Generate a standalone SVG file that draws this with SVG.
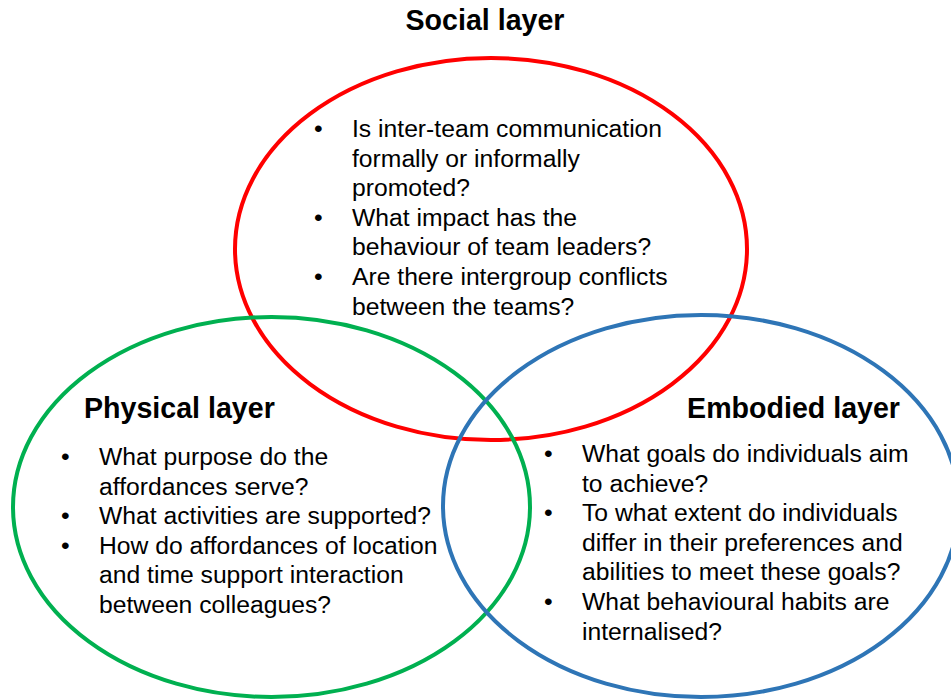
<svg xmlns="http://www.w3.org/2000/svg" width="951" height="700" viewBox="0 0 951 700">
  <style>
    .ring { fill: none; stroke-width: 4; }
    .title { font-family: "Liberation Sans", Arial, sans-serif; font-size: 28.6px; font-weight: bold; fill: #000; }
    .item { font-family: "Liberation Sans", Arial, sans-serif; font-size: 24.7px; fill: #000; }
  </style>
  <rect width="951" height="700" fill="#fff"/>

  <!-- Social layer -->
  <g id="social">
    <ellipse class="ring" cx="491" cy="249" rx="256" ry="191" stroke="#FF0000"/>
    <text class="title" x="485" y="30" text-anchor="middle">Social layer</text>
    <g class="item">
      <text x="314" y="137">•</text>
      <text x="352" y="137">Is inter-team communication</text>
      <text x="352" y="166.6">formally or informally</text>
      <text x="352" y="196.2">promoted?</text>
      <text x="314" y="225.8">•</text>
      <text x="352" y="225.8">What impact has the</text>
      <text x="352" y="255.4">behaviour of team leaders?</text>
      <text x="314" y="285">•</text>
      <text x="352" y="285">Are there intergroup conflicts</text>
      <text x="352" y="314.6">between the teams?</text>
    </g>
  </g>

  <!-- Physical layer -->
  <g id="physical">
    <ellipse class="ring" cx="271.5" cy="507" rx="258.5" ry="190" stroke="#00B050"/>
    <text class="title" x="84" y="418">Physical layer</text>
    <g class="item">
      <text x="61" y="465">•</text>
      <text x="99" y="465">What purpose do the</text>
      <text x="99" y="494.6">affordances serve?</text>
      <text x="61" y="524.2">•</text>
      <text x="99" y="524.2">What activities are supported?</text>
      <text x="61" y="553.8">•</text>
      <text x="99" y="553.8">How do affordances of location</text>
      <text x="99" y="583.4">and time support interaction</text>
      <text x="99" y="613">between colleagues?</text>
    </g>
  </g>

  <!-- Embodied layer -->
  <g id="embodied">
    <ellipse class="ring" cx="701" cy="506" rx="258" ry="191" stroke="#2E75B6"/>
    <text class="title" x="900" y="418" text-anchor="end">Embodied layer</text>
    <g class="item">
      <text x="544" y="462">•</text>
      <text x="582" y="462">What goals do individuals aim</text>
      <text x="582" y="491.6">to achieve?</text>
      <text x="544" y="521.2">•</text>
      <text x="582" y="521.2">To what extent do individuals</text>
      <text x="582" y="550.8">differ in their preferences and</text>
      <text x="582" y="580.4">abilities to meet these goals?</text>
      <text x="544" y="610">•</text>
      <text x="582" y="610">What behavioural habits are</text>
      <text x="582" y="639.6">internalised?</text>
    </g>
  </g>

  <g id="connectors"/>
</svg>
